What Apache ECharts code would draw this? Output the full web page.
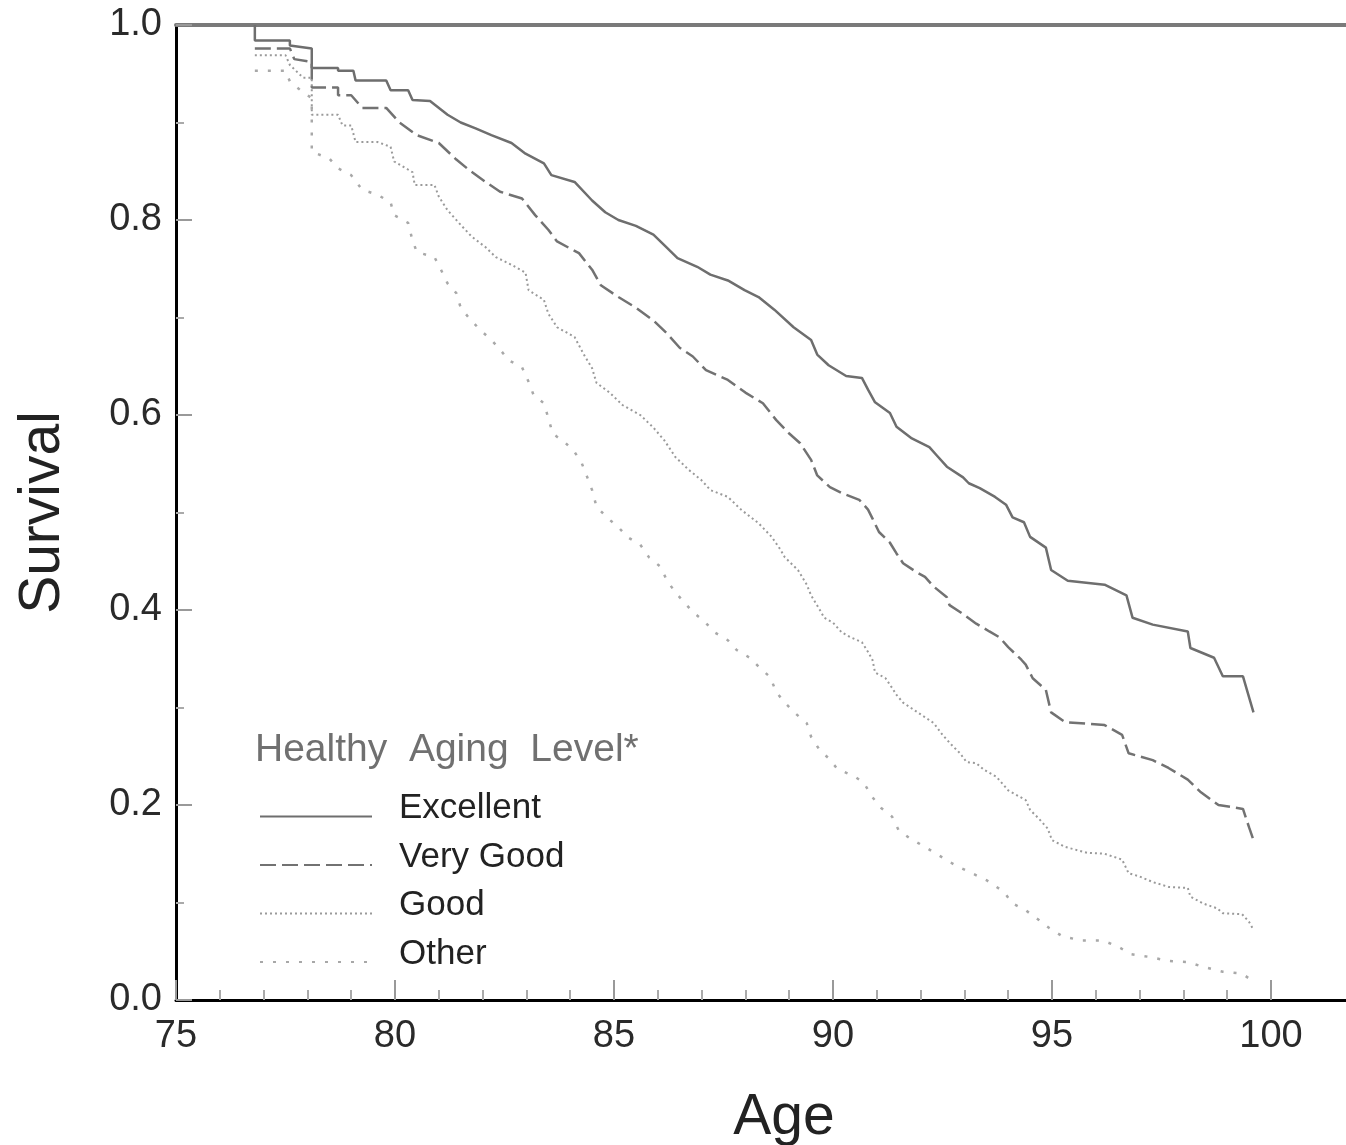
<!DOCTYPE html>
<html>
<head>
<meta charset="utf-8">
<script src="https://cdn.jsdelivr.net/npm/echarts@6/dist/echarts.min.js"></script>
<style>
    html, body { margin: 0; padding: 0; background: #fff; }
    #chart { width: 1346px; height: 1145px; }
</style>
</head>
<body>
<div id="chart"></div>
<script>
// survival curves, [age, survival]
const excellent = [[76.8, 1.0], [76.8, 0.984], [77.6, 0.984], [77.6, 0.979], [78.1, 0.976], [78.1, 0.956], [78.7, 0.956], [78.7, 0.953], [79.05, 0.953], [79.1, 0.943], [79.8, 0.943], [79.9, 0.933], [80.3, 0.933], [80.4, 0.923], [80.8, 0.922], [81.2, 0.908], [81.5, 0.9], [81.84, 0.894], [82.2, 0.887], [82.66, 0.879], [82.98, 0.868], [83.4, 0.858], [83.57, 0.846], [84.1, 0.839], [84.5, 0.82], [84.8, 0.808], [85.1, 0.8], [85.5, 0.794], [85.9, 0.785], [86.2, 0.772], [86.45, 0.761], [86.9, 0.752], [87.2, 0.744], [87.6, 0.738], [87.98, 0.728], [88.3, 0.721], [88.66, 0.708], [89.1, 0.69], [89.5, 0.677], [89.64, 0.662], [89.9, 0.651], [90.3, 0.64], [90.66, 0.638], [90.8, 0.626], [90.96, 0.613], [91.3, 0.602], [91.45, 0.588], [91.8, 0.576], [92.2, 0.567], [92.36, 0.559], [92.6, 0.547], [92.97, 0.536], [93.1, 0.53], [93.35, 0.525], [93.7, 0.516], [93.95, 0.508], [94.1, 0.495], [94.36, 0.49], [94.5, 0.475], [94.86, 0.464], [94.98, 0.441], [95.36, 0.43], [96.2, 0.426], [96.7, 0.415], [96.84, 0.392], [97.3, 0.385], [98.1, 0.378], [98.16, 0.361], [98.7, 0.351], [98.9, 0.332], [99.36, 0.332], [99.6, 0.295]];
const veryGood = [[76.8, 0.976], [77.6, 0.976], [77.7, 0.965], [78.1, 0.962], [78.1, 0.936], [78.7, 0.936], [78.7, 0.928], [79.0, 0.928], [79.25, 0.915], [79.8, 0.915], [80.1, 0.9], [80.5, 0.887], [81.0, 0.879], [81.4, 0.862], [81.7, 0.851], [82.07, 0.839], [82.4, 0.829], [82.9, 0.822], [83.2, 0.805], [83.5, 0.79], [83.7, 0.778], [84.2, 0.766], [84.5, 0.749], [84.7, 0.733], [85.1, 0.721], [85.5, 0.71], [85.9, 0.697], [86.2, 0.684], [86.5, 0.669], [86.8, 0.66], [87.1, 0.646], [87.6, 0.636], [88.0, 0.623], [88.4, 0.612], [88.7, 0.595], [89.0, 0.581], [89.25, 0.571], [89.5, 0.554], [89.64, 0.538], [89.93, 0.526], [90.2, 0.52], [90.6, 0.513], [90.8, 0.503], [90.9, 0.494], [91.05, 0.48], [91.3, 0.469], [91.45, 0.458], [91.6, 0.448], [91.9, 0.439], [92.1, 0.434], [92.3, 0.424], [92.6, 0.413], [92.66, 0.405], [92.9, 0.398], [93.27, 0.386], [93.57, 0.378], [93.8, 0.372], [94.0, 0.362], [94.3, 0.349], [94.4, 0.344], [94.56, 0.33], [94.86, 0.318], [94.98, 0.295], [95.3, 0.285], [96.2, 0.282], [96.6, 0.272], [96.75, 0.253], [97.3, 0.246], [97.66, 0.238], [98.1, 0.226], [98.4, 0.213], [98.8, 0.2], [99.36, 0.196], [99.5, 0.177], [99.6, 0.164]];
const good = [[76.8, 0.969], [77.5, 0.969], [77.6, 0.959], [77.9, 0.946], [78.1, 0.946], [78.1, 0.908], [78.7, 0.908], [78.8, 0.897], [79.0, 0.897], [79.1, 0.88], [79.6, 0.88], [79.9, 0.875], [79.98, 0.86], [80.4, 0.849], [80.45, 0.836], [80.9, 0.836], [81.0, 0.824], [81.2, 0.81], [81.5, 0.795], [81.75, 0.783], [82.07, 0.772], [82.3, 0.762], [82.66, 0.754], [82.98, 0.746], [83.05, 0.728], [83.4, 0.718], [83.5, 0.704], [83.7, 0.69], [84.1, 0.68], [84.3, 0.663], [84.5, 0.648], [84.6, 0.633], [84.9, 0.623], [85.2, 0.61], [85.6, 0.6], [85.9, 0.587], [86.15, 0.574], [86.4, 0.557], [86.7, 0.544], [87.0, 0.533], [87.2, 0.523], [87.6, 0.516], [87.9, 0.503], [88.3, 0.489], [88.6, 0.475], [88.8, 0.462], [88.9, 0.454], [89.2, 0.441], [89.4, 0.426], [89.5, 0.415], [89.7, 0.4], [89.8, 0.392], [90.0, 0.387], [90.2, 0.377], [90.4, 0.372], [90.66, 0.367], [90.8, 0.357], [90.9, 0.349], [90.96, 0.336], [91.2, 0.33], [91.35, 0.32], [91.45, 0.313], [91.6, 0.305], [91.8, 0.299], [92.1, 0.29], [92.3, 0.284], [92.5, 0.272], [92.7, 0.262], [92.9, 0.253], [93.05, 0.244], [93.27, 0.243], [93.45, 0.236], [93.73, 0.229], [94.0, 0.215], [94.4, 0.205], [94.5, 0.195], [94.7, 0.186], [94.9, 0.176], [95.0, 0.164], [95.3, 0.157], [95.8, 0.151], [96.2, 0.15], [96.6, 0.144], [96.75, 0.13], [96.98, 0.127], [97.3, 0.121], [97.66, 0.116], [98.1, 0.115], [98.16, 0.106], [98.45, 0.099], [98.77, 0.094], [98.9, 0.089], [99.34, 0.088], [99.5, 0.08], [99.6, 0.072]];
const other = [[76.8, 0.953], [77.5, 0.953], [77.6, 0.942], [77.9, 0.931], [78.1, 0.925], [78.1, 0.87], [78.5, 0.863], [78.7, 0.853], [79.0, 0.846], [79.25, 0.831], [79.6, 0.826], [79.9, 0.818], [79.98, 0.805], [80.3, 0.797], [80.4, 0.779], [80.5, 0.767], [80.9, 0.762], [81.05, 0.749], [81.2, 0.735], [81.4, 0.725], [81.5, 0.71], [81.7, 0.699], [81.95, 0.687], [82.2, 0.677], [82.4, 0.667], [82.6, 0.656], [82.9, 0.649], [83.05, 0.634], [83.16, 0.621], [83.4, 0.612], [83.5, 0.597], [83.6, 0.581], [83.9, 0.571], [84.1, 0.562], [84.26, 0.551], [84.4, 0.535], [84.5, 0.523], [84.6, 0.506], [84.86, 0.494], [85.1, 0.485], [85.3, 0.475], [85.6, 0.467], [85.8, 0.454], [86.07, 0.444], [86.2, 0.431], [86.4, 0.418], [86.6, 0.408], [86.8, 0.398], [87.07, 0.388], [87.3, 0.377], [87.6, 0.369], [87.8, 0.359], [88.1, 0.351], [88.3, 0.342], [88.57, 0.331], [88.7, 0.316], [88.9, 0.305], [89.14, 0.294], [89.4, 0.284], [89.5, 0.27], [89.7, 0.256], [89.9, 0.248], [90.1, 0.237], [90.5, 0.229], [90.7, 0.223], [90.9, 0.208], [91.1, 0.197], [91.35, 0.188], [91.5, 0.174], [91.75, 0.166], [92.1, 0.157], [92.8, 0.138], [93.5, 0.123], [93.9, 0.111], [94.1, 0.099], [94.4, 0.092], [94.7, 0.082], [94.93, 0.074], [95.25, 0.065], [95.7, 0.061], [96.16, 0.061], [96.5, 0.055], [96.8, 0.047], [97.25, 0.044], [97.66, 0.04], [98.1, 0.039], [98.45, 0.034], [98.9, 0.029], [99.34, 0.027], [99.6, 0.019]];

const levelNames = ['Excellent', 'Very Good', 'Good', 'Other'];
const ageTicks = [75, 80, 85, 90, 95, 100];
const ageMinorTicks = [76, 77, 78, 79, 81, 82, 83, 84, 86, 87, 88, 89, 91, 92, 93, 94, 96, 97, 98, 99];

const FONT = '"Liberation Sans", Arial, Helvetica, sans-serif';
const AGE_MAX = 75 + 1170 / 43.8;

function makeSeries(name, data, color, type, width) {
    return {
        name: name,
        type: 'line',
        data: data,
        xAxisIndex: 0,
        showSymbol: false,
        symbol: 'none',
        lineStyle: { color: color, type: type, width: width },
        itemStyle: { color: color }
    };
}

var chart = echarts.init(document.getElementById('chart'), null, { renderer: 'canvas' });
chart.setOption({
    animation: false,
    backgroundColor: '#fff',
    textStyle: { fontFamily: FONT },
    grid: { left: 176, top: 25, right: 0, bottom: 145, containLabel: false, outerBoundsMode: 'none' },
    title: {
        text: 'Healthy  Aging  Level*',
        left: 250,
        top: 726,
        textStyle: { fontFamily: FONT, fontSize: 39, fontWeight: 'normal', color: '#707070' }
    },
    legend: {
        data: levelNames,
        orient: 'vertical',
        left: 259,
        top: 791,
        padding: 0,
        itemWidth: 112,
        itemHeight: 14,
        itemGap: -2.5,
        itemStyle: { opacity: 0 },
        formatter: name => '{t|' + name + '}',
        textStyle: {
            fontFamily: FONT, fontSize: 35, color: '#222', padding: [0, 0, 0, 22],
            rich: { t: { fontFamily: FONT, fontSize: 35, color: '#222', lineHeight: 34, padding: [0, 0, 16, 0] } }
        }
    },
    xAxis: [
        {
            type: 'value', min: 75, max: AGE_MAX, position: 'bottom',
            axisLine: { show: true, lineStyle: { color: '#000', width: 3 } },
            axisTick: { show: true, inside: true, length: 20, customValues: ageTicks, lineStyle: { color: '#999', width: 2 } },
            axisLabel: { customValues: ageTicks, fontSize: 38, color: '#2a2a2a', margin: 18, fontFamily: FONT },
            splitLine: { show: false },
            name: 'Age', nameLocation: 'middle', nameGap: 90,
            nameTextStyle: { fontSize: 57, color: '#222', fontFamily: FONT, padding: [0, 0, 0, 46] }
        },
        {
            type: 'value', min: 75, max: AGE_MAX, position: 'bottom',
            axisLine: { show: false },
            axisTick: { show: true, inside: true, length: 10, customValues: ageMinorTicks, lineStyle: { color: '#aaa', width: 2 } },
            axisLabel: { show: false },
            splitLine: { show: false }
        },
        {
            type: 'value', min: 75, max: AGE_MAX, position: 'top',
            axisLine: { show: true, lineStyle: { color: '#7a7a7a', width: 4 } },
            axisTick: { show: false },
            axisLabel: { show: false },
            splitLine: { show: false }
        }
    ],
    yAxis: {
        type: 'value', min: 0, max: 1, interval: 0.2,
        axisLine: { show: true, lineStyle: { color: '#000', width: 3 } },
        axisTick: { show: true, inside: true, length: 16, lineStyle: { color: '#999', width: 2 } },
        minorTick: { show: true, splitNumber: 2, length: 8, lineStyle: { color: '#aaa', width: 2 } },
        axisLabel: { fontSize: 38, color: '#2a2a2a', margin: 14, fontFamily: FONT, formatter: v => v.toFixed(1) },
        splitLine: { show: false },
        name: 'Survival', nameLocation: 'middle', nameGap: 104, nameRotate: 90,
        nameTextStyle: { fontSize: 57, color: '#222', fontFamily: FONT }
    },
    series: [
        makeSeries(levelNames[0], excellent, '#6e6e6e', 'solid', 2.5),
        makeSeries(levelNames[1], veryGood, '#727272', [16, 6], 2.5),
        makeSeries(levelNames[2], good, '#9a9a9a', [2, 3], 2),
        makeSeries(levelNames[3], other, '#a8a8a8', [3, 10], 2.5)
    ]
});
</script>
</body>
</html>
